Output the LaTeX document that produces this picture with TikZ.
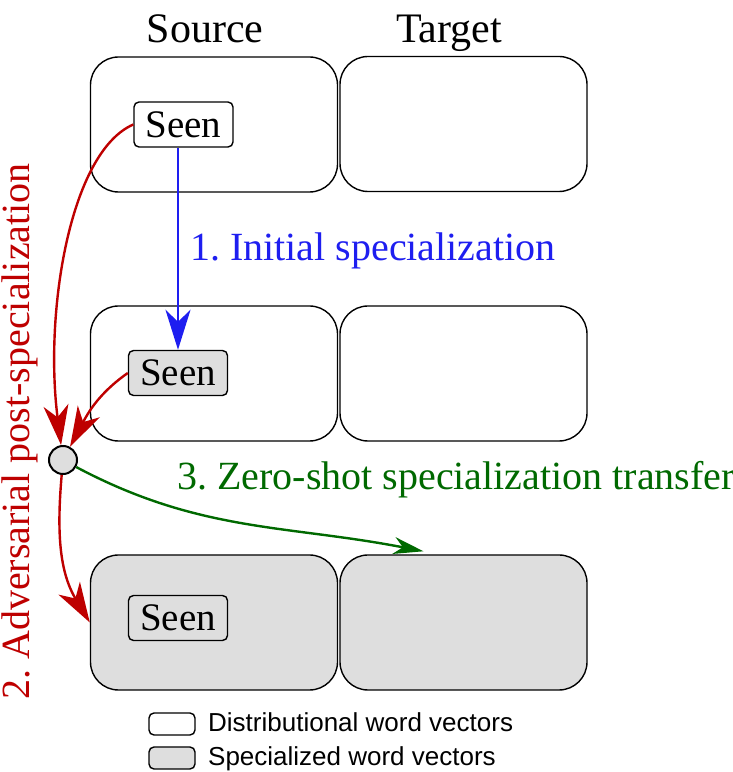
\documentclass[tikz,border=0pt]{standalone}
\usepackage{fontspec}
\setmainfont{Liberation Serif}
\newfontfamily\legendfont{Liberation Sans}
\usepackage{xcolor}
\usepackage{tikz}
\usetikzlibrary{arrows.meta,positioning}
\frenchspacing

\definecolor{specgray}{RGB}{222,222,222}
\definecolor{initblue}{RGB}{30,30,240}
\definecolor{advred}{RGB}{190,0,0}
\definecolor{zsgreen}{RGB}{0,105,0}

\begin{document}
\begin{tikzpicture}[x=1pt, y=1pt,
    space/.style={draw, line width=1.4pt, rounded corners=28pt, minimum width=247pt, minimum height=135pt},
    word/.style={draw, line width=1.4pt, rounded corners=5pt, minimum width=99pt, minimum height=45pt, inner sep=0pt, font=\fontsize{39}{41}\selectfont},
    spec/.style={fill=specgray},
    title/.style={anchor=base, font=\fontsize{42}{44}\selectfont},
    steplabel/.style={anchor=base west, inner sep=0pt, font=\fontsize{40}{42}\selectfont},
    legendbox/.style={draw, line width=1.4pt, rounded corners=5pt, minimum width=46pt, minimum height=22pt, inner sep=0pt},
    legendtext/.style={anchor=base west, inner sep=0pt, font=\legendfont\fontsize{26}{28}\selectfont},
    flow/.style={line width=2.4pt, -{Stealth[length=40pt, width=25pt, inset=12pt]}}]
    \useasboundingbox (0,0) rectangle (732,772);

    \node[space] (src1) at (214,647.5) {};
    \node[space] (tgt1) at (463.5,648) {};
    \node[space] (src2) at (214,398.5) {};
    \node[space] (tgt2) at (463.5,398.5) {};
    \node[space, spec] (src3) at (214,149.5) {};
    \node[space, spec] (tgt3) at (463.5,149.5) {};

    \node[title] (source) at (205,729) {Source};
    \node[title] (target) at (449,729) {Target};

    \node[word] (seen1) at (183.5,647.5) {Seen};
    \node[word, spec] (seen2) at (178,399) {Seen};
    \node[word, spec] (seen3) at (178,154) {Seen};

    \node[draw, circle, line width=2pt, fill=specgray, minimum size=28pt, inner sep=0pt] (pivot) at (63,312) {};
    \coordinate (drop) at ([xshift=-40pt, yshift=3pt]tgt3.north);

    \draw[flow, initblue] (seen1.south -| seen2.north) -- (seen2.north);
    \node[steplabel, text=initblue] (initial) at (190,511) {1. Initial specialization};

    \draw[flow, advred] (seen1.west) .. controls (70,620) and (44,460) .. (pivot);
    \draw[flow, advred] (seen2.west) to[out=215, in=62] (pivot);
    \draw[flow, advred] (pivot) to[out=265, in=121] (src3.west);
    \node[anchor=base, rotate=90, inner sep=0pt, text=advred, font=\fontsize{40}{42}\selectfont] (adversarial) at (29,340.5) {2. Adversarial post-specialization};

    \draw[line width=2.4pt, zsgreen, -{Stealth[length=30pt, width=17pt, inset=9pt]}] (pivot) to[out=-28, in=169] (drop);
    \node[steplabel, text=zsgreen] (transfer) at (177,282) {3. Zero-shot specialization transfer};

    \node[legendbox] (distbox) at (172,48) {};
    \node[legendbox, spec] (specbox) at (172,14) {};
    \node[legendtext] (disttext) at (208,41) {Distributional word vectors};
    \node[legendtext] (spectext) at (208,6) {Specialized word vectors};
\end{tikzpicture}
\end{document}
